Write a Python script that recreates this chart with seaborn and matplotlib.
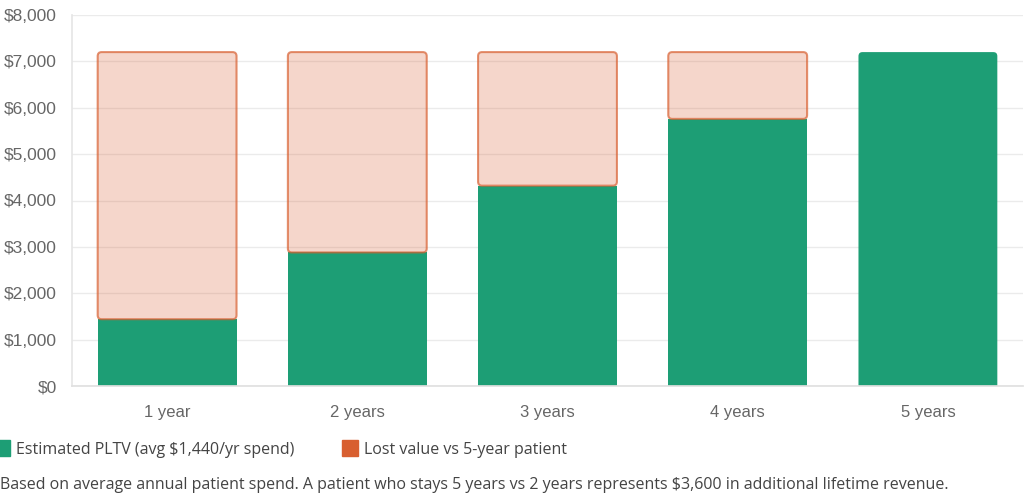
import pandas as pd
import matplotlib
matplotlib.use("Agg")
import matplotlib.pyplot as plt
from matplotlib.patches import FancyBboxPatch
from matplotlib.lines import Line2D
from matplotlib.ticker import FuncFormatter
import seaborn as sns

# --- data ---
tenure = ["1 year", "2 years", "3 years", "4 years", "5 years"]
pltv = [1440, 2880, 4320, 5760, 7200]
lost = [5760, 4320, 2880, 1440, 0]
y_ticks = [0, 1000, 2000, 3000, 4000, 5000, 6000, 7000, 8000]

green = "#1d9e75"
orange = "#d85f30"

sns.set_theme(style="white")
plt.rcParams["font.family"] = ["Liberation Sans", "DejaVu Sans"]

W, H = 1024, 496
fig = plt.figure(figsize=(W / 100, H / 100), dpi=100)
ax = fig.add_axes([72 / W, 1 - 386 / H, 951 / W, 371 / H])

df = pd.DataFrame({"tenure": tenure, "pltv": pltv, "lost": lost})
sns.barplot(data=df, x="tenure", y="pltv", color=green, width=0.73,
            saturation=1, ax=ax)
sns.barplot(data=df, x="tenure", y="lost", color=orange, width=0.73,
            saturation=1, ax=ax)

ax.set_xlim(-0.5, len(tenure) - 0.5)
ax.set_ylim(0, 8000)

# swap the plain bars for rounded ones (lost bars sit on top of PLTV)
x_per_px = len(tenure) / 951
y_per_px = 8000 / 371
r = 4 * x_per_px
aspect = y_per_px / x_per_px
ry = 4 * y_per_px

bars = list(ax.patches)
green_bars, lost_bars = bars[:len(tenure)], bars[len(tenure):]
for p in bars:
    p.remove()

for i, p in enumerate(green_bars):
    x0, w, h = p.get_x(), p.get_width(), p.get_height()
    if lost[i] == 0:
        box = FancyBboxPatch((x0, -ry), w, h + ry,
                             boxstyle=f"round,pad=0,rounding_size={r}",
                             mutation_aspect=aspect, facecolor=green,
                             edgecolor="none", zorder=2)
    else:
        box = FancyBboxPatch((x0, 0), w, h, boxstyle="square,pad=0",
                             facecolor=green, edgecolor="none", zorder=2)
    box.set_clip_path(ax.patch)
    ax.add_patch(box)

for i, p in enumerate(lost_bars):
    if lost[i] == 0:
        continue
    x0, w, h = p.get_x(), p.get_width(), p.get_height()
    box = FancyBboxPatch((x0, pltv[i]), w, h,
                         boxstyle=f"round,pad=0,rounding_size={r}",
                         mutation_aspect=aspect,
                         facecolor=matplotlib.colors.to_rgba(orange, 0.25),
                         edgecolor=matplotlib.colors.to_rgba(orange, 0.7),
                         linewidth=1.5, zorder=3)
    ax.add_patch(box)

# axes styling
ax.set_yticks(y_ticks)
ax.yaxis.set_major_formatter(FuncFormatter(lambda v, _: f"${v:,.0f}"))
ax.grid(axis="y", color="#ebebeb", linewidth=1)
ax.set_axisbelow(True)
for s in ["top", "right"]:
    ax.spines[s].set_visible(False)
ax.spines["left"].set_color("#e6e6e6")
ax.spines["bottom"].set_color("#e0e0e0")
ax.tick_params(axis="y", colors="#666666", labelsize=12.5, length=8,
               color="#ebebeb", pad=3)
ax.tick_params(axis="x", colors="#666666", labelsize=12, length=0, pad=14)
ax.set_xlabel("")
ax.set_ylabel("")

# legend and note
handles = [
    Line2D([], [], marker="s", linestyle="none", markersize=11,
           markerfacecolor=green, markeredgecolor=green),
    Line2D([], [], marker="s", linestyle="none", markersize=11,
           markerfacecolor=orange, markeredgecolor=orange),
]
fig.legend(handles, ["Estimated PLTV (avg $1,440/yr spend)",
                     "Lost value vs 5-year patient"],
           loc="center left", bbox_to_anchor=(-0.004, 1 - 450 / H), ncol=2,
           frameon=False, borderpad=0, borderaxespad=0, handletextpad=0.45,
           columnspacing=3.1, handlelength=0.8,
           prop={"family": ["Open Sans", "DejaVu Sans"], "size": 11.5},
           labelcolor="#444444")

fig.text(0.0, 1 - 485 / H,
         "Based on average annual patient spend. A patient who stays 5 years "
         "vs 2 years represents $3,600 in additional lifetime revenue.",
         ha="left", va="center", color="#444444", fontsize=11.5,
         family=["Open Sans", "DejaVu Sans"])

fig.savefig("out.png", dpi=100)
